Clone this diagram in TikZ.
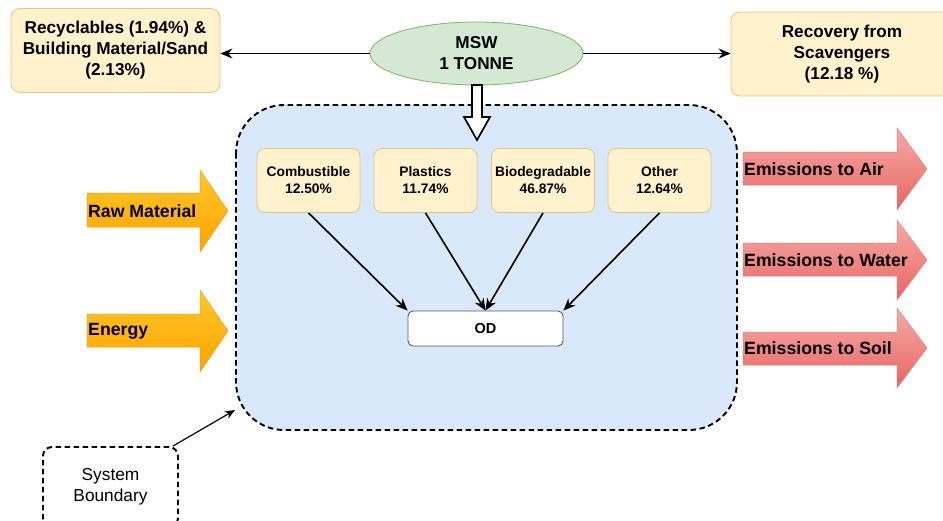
\documentclass[tikz,border=0pt]{standalone}
\usepackage{fontspec}
\setmainfont{Liberation Sans}
\usetikzlibrary{arrows.meta,shapes.geometric}
\definecolor{noteFill}{HTML}{FFF2CC}
\definecolor{noteLine}{HTML}{E3C77E}
\definecolor{mswFill}{HTML}{D5E8D4}
\definecolor{mswLine}{HTML}{82B366}
\definecolor{sysFill}{HTML}{DAE8FC}
\definecolor{inTop}{HTML}{FFC72A}
\definecolor{inBot}{HTML}{FFA300}
\definecolor{inLine}{HTML}{E8A317}
\definecolor{outTop}{HTML}{F4AAA7}
\definecolor{outBot}{HTML}{E96662}
\definecolor{outLine}{HTML}{D98480}
\begin{document}
\begin{tikzpicture}[x=1pt,y=-1pt,
  notebox/.style={draw=noteLine, fill=noteFill, rounded corners=9pt, line width=0.8pt,
    align=center, font=\bfseries\fontsize{17.2}{21}\selectfont, inner sep=0pt},
  fracbox/.style={draw=noteLine, fill=noteFill, rounded corners=8pt, line width=0.8pt,
    minimum width=103pt, minimum height=64pt, align=center, inner sep=0pt,
    font=\bfseries\fontsize{13.8}{17}\selectfont},
  flowlabel/.style={anchor=west, inner sep=0pt, font=\bfseries\fontsize{17.7}{20}\selectfont},
  link/.style={line width=1.6pt, -{Stealth[length=12pt,width=10pt]}},
  inflow/.style={top color=inTop, bottom color=inBot, draw=inLine, line width=0.5pt},
  outflow/.style={top color=outTop, bottom color=outBot, draw=outLine, line width=0.5pt}
]
\useasboundingbox (0,0) rectangle (943,520);
\fill[white] (0,0) rectangle (943,520);

% system boundary
\draw[fill=sysFill, line width=1.9pt, dash pattern=on 5.5pt off 3.5pt, rounded corners=48pt]
  (236,105) rectangle (737,430);
\coordinate (sysedge) at (235,410);

% waste source and the two side streams
\node[ellipse, draw=mswLine, fill=mswFill, line width=0.8pt, minimum width=213pt,
  minimum height=63pt, inner sep=0pt, align=center,
  font=\bfseries\fontsize{17.2}{21}\selectfont] (msw) at (476.5,53.5) {MSW\\1 TONNE};
\node[notebox, minimum width=209pt, minimum height=84pt] (rec) at (115.5,50.5)
  {Recyclables (1.94\%) \&\\Building Material/Sand\\(2.13\%)};
\node[notebox, minimum width=222pt, minimum height=84pt] (scav) at (842,54)
  {Recovery from\\Scavengers\\(12.18 \%)};
\draw[link] (msw.west) -- (msw.west -| rec.east);
\draw[link] (msw.east) -- (msw.east -| scav.west);

% hollow block arrow into the system
\draw[fill=white, line width=1.7pt, line join=miter] (472,85) -- (482,85) -- (482,117) -- (490,117)
  -- (477,140) -- (464,117) -- (472,117) -- cycle;

% waste fractions
\node[fracbox] (comb) at (308.5,180.5) {Combustible\\12.50\%};
\node[fracbox] (plas) at (425.5,180.5) {Plastics\\11.74\%};
\node[fracbox] (bio)  at (543,180.5) {Biodegradable\\46.87\%};
\node[fracbox] (oth)  at (659.5,180.5) {Other\\12.64\%};
\node[draw=black!65, fill=white, rounded corners=5pt, line width=0.9pt,
  minimum width=155pt, minimum height=35pt, inner sep=0pt,
  font=\bfseries\fontsize{14.5}{16}\selectfont] (od) at (485.5,328.5) {OD};
\draw[link] (comb.south) -- (od.north west);
\draw[link] (plas.south) -- (od.north);
\draw[link] (bio.south) -- (od.north);
\draw[link] (oth.south) -- (od.north east);

% inputs
\path[inflow] (87,193) -- (200,193) -- (200,170) -- (228,211) -- (200,252) -- (200,227) -- (87,227) -- cycle;
\path[inflow] (87,314) -- (200,314) -- (200,290) -- (228,331) -- (200,372) -- (200,347) -- (87,347) -- cycle;
\node[flowlabel] (raw) at (88,211) {Raw Material};
\node[flowlabel] (energy) at (88,331) {Energy};

% outputs
\path[outflow] (743,152) -- (897,152) -- (897,128) -- (927,169) -- (897,210) -- (897,185) -- (743,185) -- cycle;
\path[outflow] (743,243) -- (897,243) -- (897,220) -- (927,260) -- (897,300) -- (897,276) -- (743,276) -- cycle;
\path[outflow] (743,332) -- (897,332) -- (897,308) -- (927,348) -- (897,388) -- (897,365) -- (743,365) -- cycle;
\node[flowlabel] (air) at (744,169) {Emissions to Air};
\node[flowlabel] (water) at (744,260) {Emissions to Water};
\node[flowlabel] (soil) at (744,348) {Emissions to Soil};

% legend
\node[draw, line width=1.9pt, dash pattern=on 5.5pt off 3.5pt, rounded corners=9pt,
  minimum width=135pt, minimum height=80pt, inner sep=0pt, align=center,
  font=\fontsize{17.3}{21}\selectfont] (legend) at (110.5,487) {System\\Boundary};
\draw[line width=1.2pt, -{Stealth[length=10pt,width=8pt]}] (legend.north east) ++(-6,0) coordinate (lstart) (lstart) -- (sysedge);
\end{tikzpicture}
\end{document}
